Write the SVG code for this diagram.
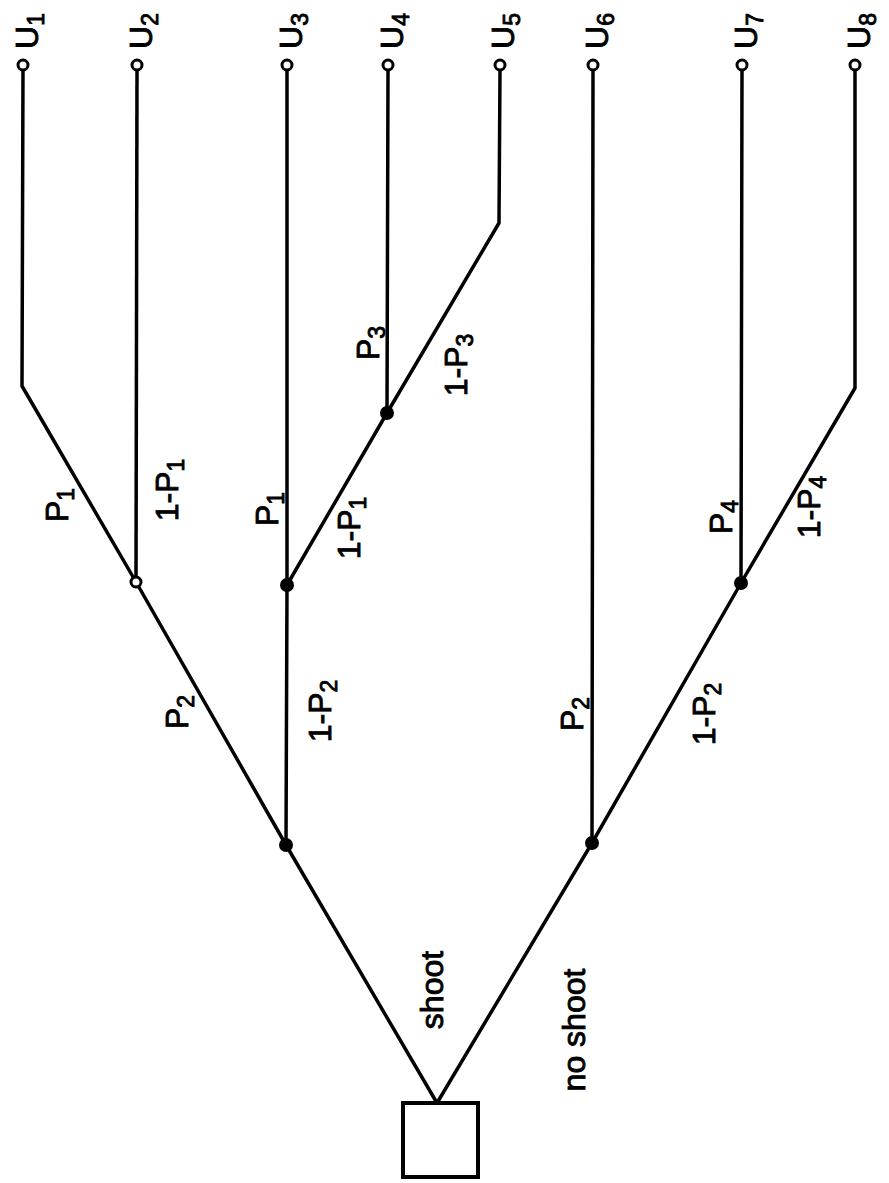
<svg xmlns="http://www.w3.org/2000/svg" width="889" height="1183" viewBox="0 0 889 1183">
<style>
.ln{fill:none;stroke:#000;stroke-width:3.5;stroke-linejoin:round;stroke-linecap:round}
.dot{fill:#000}
.open{fill:#fff;stroke:#000;stroke-width:3}
.t{font-family:"Liberation Sans",Arial,sans-serif;font-size:32px;fill:#000;stroke:#000;stroke-width:0.9;text-anchor:middle}
.s{font-size:23px}
</style>
<rect width="889" height="1183" fill="#fff"/>
<g id="connectors">
<path class="ln" d="M437,1103 L286,845 L136,582 L22,386 L23,70"/>
<path class="ln" d="M136,582 L137,70"/>
<path class="ln" d="M286,845 L287,585 L287,70"/>
<path class="ln" d="M287,585 L387,413 L499,223 L500,70"/>
<path class="ln" d="M387,413 L388,70"/>
<path class="ln" d="M437,1103 L592,843 L741,583 L855,388 L855,70"/>
<path class="ln" d="M592,843 L593,70"/>
<path class="ln" d="M741,583 L742,70"/>
</g>
<g id="decision"><rect x="403" y="1103" width="75" height="74" fill="#fff" stroke="#000" stroke-width="4"/></g>
<g id="nA"><circle class="dot" cx="286" cy="845" r="7"/></g>
<g id="nB"><circle class="dot" cx="592" cy="843" r="7"/></g>
<g id="nC"><circle class="open" cx="136" cy="582" r="5"/></g>
<g id="nD"><circle class="dot" cx="287" cy="585" r="7"/></g>
<g id="nE"><circle class="dot" cx="387" cy="413" r="7"/></g>
<g id="nF"><circle class="dot" cx="741" cy="583" r="7"/></g>
<g id="u1"><circle class="open" cx="23" cy="65" r="5"/><text class="t" x="38" y="31" transform="rotate(-90 38 31)">U<tspan class="s" dy="6">1</tspan></text></g>
<g id="u2"><circle class="open" cx="137" cy="65" r="5"/><text class="t" x="152" y="31" transform="rotate(-90 152 31)">U<tspan class="s" dy="6">2</tspan></text></g>
<g id="u3"><circle class="open" cx="287" cy="65" r="5"/><text class="t" x="302" y="31" transform="rotate(-90 302 31)">U<tspan class="s" dy="6">3</tspan></text></g>
<g id="u4"><circle class="open" cx="388" cy="65" r="5"/><text class="t" x="403" y="31" transform="rotate(-90 403 31)">U<tspan class="s" dy="6">4</tspan></text></g>
<g id="u5"><circle class="open" cx="500" cy="65" r="5"/><text class="t" x="514" y="31" transform="rotate(-90 514 31)">U<tspan class="s" dy="6">5</tspan></text></g>
<g id="u6"><circle class="open" cx="593" cy="65" r="5"/><text class="t" x="608" y="31" transform="rotate(-90 608 31)">U<tspan class="s" dy="6">6</tspan></text></g>
<g id="u7"><circle class="open" cx="742" cy="65" r="5"/><text class="t" x="757" y="31" transform="rotate(-90 757 31)">U<tspan class="s" dy="6">7</tspan></text></g>
<g id="u8"><circle class="open" cx="855" cy="65" r="5"/><text class="t" x="870" y="31" transform="rotate(-90 870 31)">U<tspan class="s" dy="6">8</tspan></text></g>
<g id="labels">
<text class="t" x="443" y="990" transform="rotate(-90 443 990)">shoot</text>
<text class="t" x="585" y="1030" transform="rotate(-90 585 1030)">no shoot</text>
<text class="t" x="188" y="712" transform="rotate(-90 188 712)">P<tspan class="s" dy="6">2</tspan></text>
<text class="t" x="331" y="711" transform="rotate(-90 331 711)">1-P<tspan class="s" dy="6">2</tspan></text>
<text class="t" x="68" y="505" transform="rotate(-90 68 505)">P<tspan class="s" dy="6">1</tspan></text>
<text class="t" x="178" y="490" transform="rotate(-90 178 490)">1-P<tspan class="s" dy="6">1</tspan></text>
<text class="t" x="278" y="509" transform="rotate(-90 278 509)">P<tspan class="s" dy="6">1</tspan></text>
<text class="t" x="360" y="528" transform="rotate(-90 360 528)">1-P<tspan class="s" dy="6">1</tspan></text>
<text class="t" x="379" y="343" transform="rotate(-90 379 343)">P<tspan class="s" dy="6">3</tspan></text>
<text class="t" x="467" y="365" transform="rotate(-90 467 365)">1-P<tspan class="s" dy="6">3</tspan></text>
<text class="t" x="583" y="714" transform="rotate(-90 583 714)">P<tspan class="s" dy="6">2</tspan></text>
<text class="t" x="715" y="714" transform="rotate(-90 715 714)">1-P<tspan class="s" dy="6">2</tspan></text>
<text class="t" x="732" y="517" transform="rotate(-90 732 517)">P<tspan class="s" dy="6">4</tspan></text>
<text class="t" x="820" y="507" transform="rotate(-90 820 507)">1-P<tspan class="s" dy="6">4</tspan></text>
</g>
</svg>
